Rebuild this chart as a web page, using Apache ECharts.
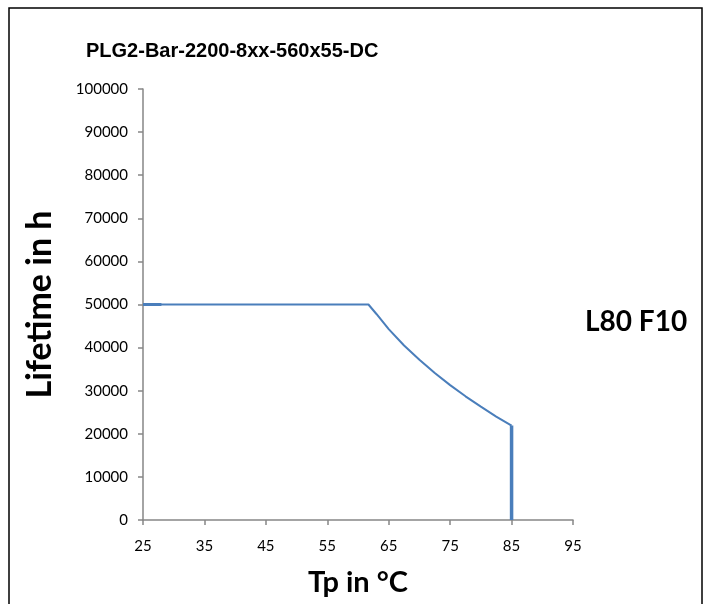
<!DOCTYPE html>
<html><head><meta charset="utf-8">
<script src="https://cdn.jsdelivr.net/npm/echarts@6/dist/echarts.min.js"></script>
<style>html,body{margin:0;padding:0;background:#fff}#c{width:712px;height:604px}</style>
</head><body><div id="c"></div>
<script>
const titleText = "PLG2-Bar-2200-8xx-560x55-DC";
const noteText = "L80 F10";
const xName = "Tp in °C";
const yName = "Lifetime in h";
const tempC = [25, 61.7, 63, 65, 67.5, 70, 72.5, 75, 77.5, 80, 82.5, 85];
const lifetimeH = [50000, 50000, 47800, 44300, 40500, 37200, 34100, 31300, 28700, 26300, 24000, 21900];
const startMarkX = [25, 28];
const startMarkY = [50000, 50000];
const dropX = [85, 85];
const dropY = [21900, 0];

const chart = echarts.init(document.getElementById('c'));
const font = 'Lato, "Open Sans", sans-serif';
chart.setOption({
  animation: false,
  backgroundColor: '#fff',
  title: {
    text: titleText, left: 81, top: 36,
    textStyle: {fontFamily: '"Liberation Sans", Arial, sans-serif', fontWeight: 'bold', fontSize: 20, color: '#000'}
  },
  graphic: [
    {type: 'rect', shape: {x: 9, y: 8, width: 693, height: 610}, style: {fill: 'none', stroke: '#000', lineWidth: 1.5}},
    {type: 'text', left: 585, top: 308, style: {text: noteText, font: 'bold 28px ' + font, fill: '#000'}}
  ],
  grid: {left: 143, top: 89, width: 430, height: 431, containLabel: false},
  xAxis: {
    type: 'value', min: 25, max: 95, interval: 10,
    name: xName, nameLocation: 'middle', nameGap: 48,
    nameTextStyle: {fontFamily: font, fontWeight: 'bold', fontSize: 29, color: '#000'},
    axisLine: {lineStyle: {color: '#868686', width: 1.5}},
    axisTick: {show: true, length: 5, lineStyle: {color: '#868686', width: 1.5}},
    axisLabel: {fontFamily: font, fontSize: 15, color: '#000', margin: 19, formatter: v => String(v)},
    splitLine: {show: false}
  },
  yAxis: {
    type: 'value', min: 0, max: 100000, interval: 10000,
    name: yName, nameLocation: 'middle', nameGap: 86, nameRotate: 90,
    nameTextStyle: {fontFamily: font, fontWeight: 'bold', fontSize: 34, color: '#000'},
    axisLine: {show: true, lineStyle: {color: '#868686', width: 1.5}},
    axisTick: {show: true, length: 5, lineStyle: {color: '#868686', width: 1.5}},
    axisLabel: {fontFamily: font, fontSize: 15, color: '#000', margin: 15, formatter: v => String(v)},
    splitLine: {show: false}
  },
  series: [
    {type: 'line', data: tempC.map((x, i) => [x, lifetimeH[i]]), symbol: 'none', smooth: false,
     lineStyle: {color: '#4a7ebb', width: 2}},
    {type: 'line', data: startMarkX.map((x, i) => [x, startMarkY[i]]), symbol: 'none',
     lineStyle: {color: '#4a7ebb', width: 3}},
    {type: 'line', data: dropX.map((x, i) => [x, dropY[i]]), symbol: 'none',
     lineStyle: {color: '#4a7ebb', width: 3.5}}
  ]
});
</script></body></html>
